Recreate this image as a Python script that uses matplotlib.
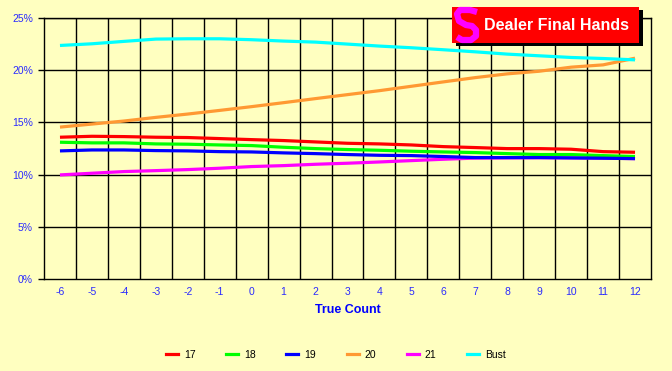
import numpy as np
import matplotlib
matplotlib.use("Agg")
import matplotlib.pyplot as plt
from matplotlib.patches import Rectangle
from matplotlib.lines import Line2D

plt.rcParams['font.family'] = ['Liberation Sans', 'DejaVu Sans']

# data (percent of dealer final hands by true count)
counts = [-6, -5, -4, -3, -2, -1, 0, 1, 2, 3, 4, 5, 6, 7, 8, 9, 10, 11, 12]
p17 = [13.58, 13.67, 13.64, 13.58, 13.55, 13.45, 13.35, 13.26, 13.13, 13.00,
       12.94, 12.84, 12.68, 12.59, 12.49, 12.49, 12.43, 12.20, 12.14]
p18 = [13.10, 13.04, 13.04, 12.94, 12.91, 12.84, 12.78, 12.62, 12.49, 12.40,
       12.33, 12.24, 12.17, 12.11, 12.01, 11.92, 11.92, 11.82, 11.73]
p19 = [12.27, 12.36, 12.36, 12.30, 12.27, 12.20, 12.17, 12.08, 12.01, 11.92,
       11.85, 11.82, 11.73, 11.63, 11.63, 11.63, 11.60, 11.57, 11.53]
p20 = [14.55, 14.84, 15.13, 15.48, 15.80, 16.15, 16.51, 16.89, 17.28, 17.66,
       18.04, 18.46, 18.88, 19.29, 19.65, 19.90, 20.29, 20.51, 21.15]
p21 = [9.97, 10.13, 10.29, 10.38, 10.48, 10.61, 10.77, 10.86, 10.99, 11.09,
       11.21, 11.34, 11.47, 11.58, 11.60, 11.62, 11.60, 11.58, 11.53]
bust = [22.37, 22.53, 22.76, 22.98, 23.01, 23.01, 22.92, 22.79, 22.69, 22.50,
        22.31, 22.15, 21.96, 21.76, 21.54, 21.38, 21.22, 21.12, 20.99]

names = ['17', '18', '19', '20', '21', 'Bust']
colors = ['#ff0000', '#00ff00', '#0000ff', '#ff9933', '#ff00ff', '#00ffff']
series = [p17, p18, p19, p20, p21, bust]
zorders = [5, 4, 6, 5, 3, 5]

bg = '#ffffc0'
tickblue = '#2a2aff'

fig = plt.figure(figsize=(6.72, 3.71), dpi=100, facecolor=bg)
ax = fig.add_axes([44/672, 1-279/371, (651-44)/672, (279-18)/371], facecolor=bg)

x = np.arange(len(counts))
for vals, c, n, z in zip(series, colors, names, zorders):
    ax.plot(x, vals, color=c, lw=2.3, label=n, zorder=z, solid_capstyle='butt')

ax.set_xlim(-0.5, len(counts) - 0.5)
ax.set_ylim(0, 25)
ax.set_yticks(np.arange(0, 26, 5))
ax.set_yticklabels(['%d%%' % v for v in range(0, 26, 5)])
ax.set_xticks(x)
ax.set_xticklabels([str(c) for c in counts])

ax.grid(False)
for v in range(5, 26, 5):
    ax.axhline(v, color='black', lw=1.0, zorder=1)
for b in np.arange(0.5, len(counts) - 1, 1):
    ax.axvline(b, color='black', lw=1.0, zorder=1)
for s in ax.spines.values():
    s.set_color('black')
    s.set_linewidth(1.0)

ax.tick_params(axis='y', length=4, width=1, color='black', labelsize=7.5,
               labelcolor=tickblue, pad=4)
ax.tick_params(axis='x', which='both', length=0, labelsize=7.5,
               labelcolor=tickblue, pad=6)
ax.set_xlabel('True Count', color='#0000ff', fontsize=9, fontweight='bold',
              labelpad=5)

# legend along the bottom
handles = [Line2D([0], [0], color=c, lw=2.3) for c in colors]
fig.legend(handles, names, loc='center', bbox_to_anchor=(336/672, 1-354.5/371),
           ncol=6, frameon=False, fontsize=7.5, handlelength=1.15,
           handletextpad=0.6, columnspacing=2.9)

# title box with shadow
W, H = 672.0, 371.0
fig.patches.append(Rectangle((456/W, 1-46/H), 187/W, 36/H, transform=fig.transFigure,
                             facecolor='black', edgecolor='none', zorder=10))
fig.patches.append(Rectangle((452/W, 1-43/H), 187/W, 36/H, transform=fig.transFigure,
                             facecolor='#ff0000', edgecolor='none', zorder=11))
sx = np.array([477, 470, 460, 457, 459, 466, 472, 476, 476, 471, 462, 457])
sy = np.array([12, 10, 10, 14, 21, 25, 26, 30, 36, 40, 40, 37])
fig.add_artist(Line2D(sx/W, 1-sy/H, transform=fig.transFigure, color='#ff00ff',
                      lw=4.5, solid_capstyle='butt', zorder=12))
fig.text(556/W, 1-25/H, 'Dealer Final Hands', color='white', fontsize=11.5,
         fontweight='bold', ha='center', va='center', zorder=13)

fig.savefig('out.png', dpi=100, facecolor=bg)
